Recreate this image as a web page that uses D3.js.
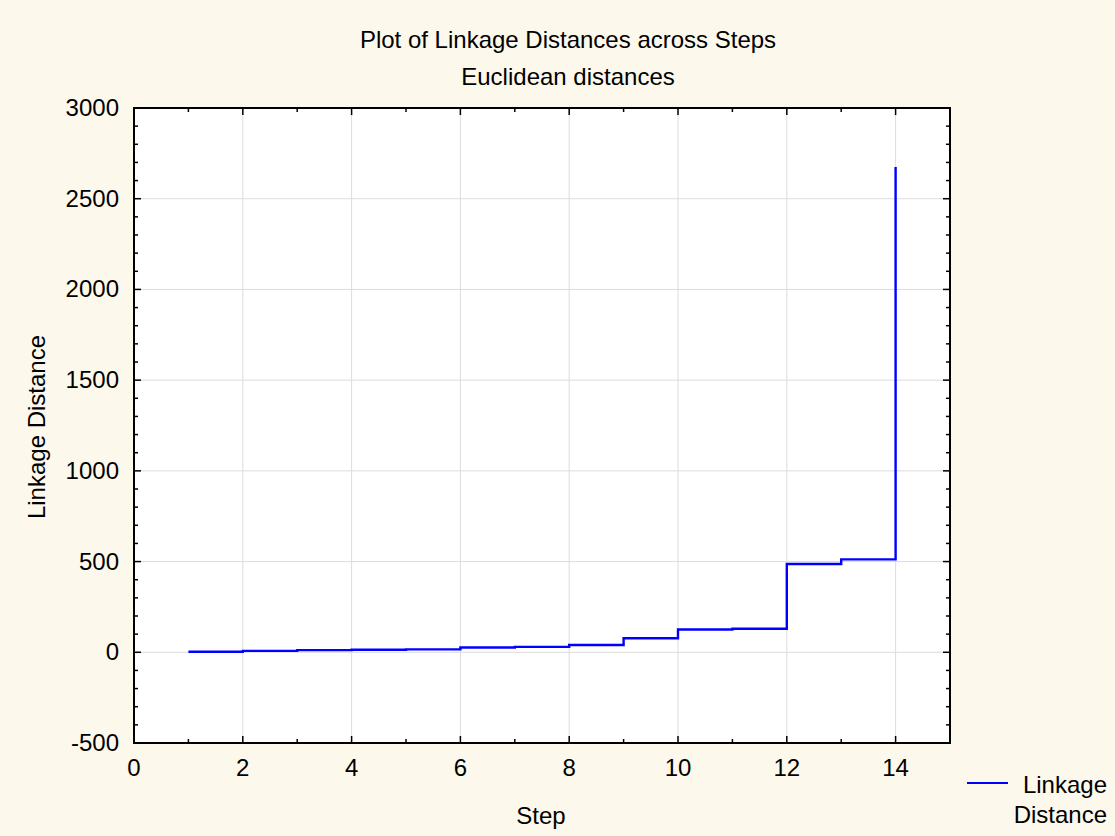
<!DOCTYPE html>
<html>
<head>
<meta charset="utf-8">
<script src="https://cdn.jsdelivr.net/npm/d3@7"></script>
<style>
  body { margin: 0; background: #fdf8ec; }
  svg { display: block; font-family: "Liberation Sans", Arial, sans-serif; }
</style>
</head>
<body>
<svg width="1115" height="836"></svg>
<script>
// data
const steps = [1, 2, 3, 4, 5, 6, 7, 8, 9, 10, 11, 12, 13, 14]
const linkage = [3, 8, 12, 14, 16, 26, 30, 40, 77, 126, 130, 487, 512, 2675]
const xTicks = [0, 2, 4, 6, 8, 10, 12, 14]
const yTicks = [-500, 0, 500, 1000, 1500, 2000, 2500, 3000]

const svg = d3.select("svg")
const width = +svg.attr("width")
const height = +svg.attr("height")
const fs = 24

svg.append("rect").attr("width", width).attr("height", height).attr("fill", "#fdf8ec")

// plot box
const box = { left: 134, right: 950, top: 108, bottom: 743 }

const x = d3.scaleLinear().domain([0, 15]).range([box.left, box.right])
const y = d3.scaleLinear().domain([-500, 3000]).range([box.bottom, box.top])

svg.append("rect")
  .attr("x", box.left).attr("y", box.top)
  .attr("width", box.right - box.left).attr("height", box.bottom - box.top)
  .attr("fill", "#ffffff")

// grid
const grid = svg.append("g").attr("stroke", "#dcdcdc").attr("stroke-width", 1)
xTicks.filter(d => d > 0).forEach(d => {
  grid.append("line")
    .attr("x1", x(d)).attr("x2", x(d))
    .attr("y1", box.top).attr("y2", box.bottom)
})
yTicks.filter(d => d > -500 && d < 3000).forEach(d => {
  grid.append("line")
    .attr("x1", box.left).attr("x2", box.right)
    .attr("y1", y(d)).attr("y2", y(d))
})

// inward ticks on all four sides
const ticks = svg.append("g").attr("stroke", "#000").attr("stroke-width", 1.5)
d3.range(0, 16, 1).forEach(d => {
  const len = d % 2 === 0 ? 7 : 4
  ticks.append("line").attr("x1", x(d)).attr("x2", x(d)).attr("y1", box.top).attr("y2", box.top + len)
  ticks.append("line").attr("x1", x(d)).attr("x2", x(d)).attr("y1", box.bottom).attr("y2", box.bottom - len)
})
d3.range(-500, 3001, 100).forEach(d => {
  const len = d % 500 === 0 ? 7 : 4
  ticks.append("line").attr("x1", box.left).attr("x2", box.left + len).attr("y1", y(d)).attr("y2", y(d))
  ticks.append("line").attr("x1", box.right).attr("x2", box.right - len).attr("y1", y(d)).attr("y2", y(d))
})

svg.append("rect")
  .attr("x", box.left).attr("y", box.top)
  .attr("width", box.right - box.left).attr("height", box.bottom - box.top)
  .attr("fill", "none")
  .attr("stroke", "#000")
  .attr("stroke-width", 2)

// tick labels
svg.append("g").selectAll("text")
  .data(xTicks)
  .join("text")
  .attr("x", d => x(d))
  .attr("y", box.bottom + 33)
  .attr("text-anchor", "middle")
  .attr("font-size", fs)
  .text(d => d)

svg.append("g").selectAll("text")
  .data(yTicks)
  .join("text")
  .attr("x", box.left - 15)
  .attr("y", d => y(d) + 8)
  .attr("text-anchor", "end")
  .attr("font-size", fs)
  .text(d => d)

// step line: each value held until the next step, last one rises vertically at step 14
const pts = steps.map((s, i) => [s, linkage[i]])
const stepPts = [pts[0]]
for (let i = 1; i < pts.length; i++) {
  stepPts.push([pts[i][0], pts[i - 1][1]])
  stepPts.push(pts[i])
}
svg.append("path")
  .attr("d", d3.line().x(d => x(d[0])).y(d => y(d[1]))(stepPts))
  .attr("fill", "none")
  .attr("stroke", "#0000ff")
  .attr("stroke-width", 2.4)

// titles
svg.append("text")
  .attr("x", 568).attr("y", 48)
  .attr("text-anchor", "middle")
  .attr("font-size", fs)
  .text("Plot of Linkage Distances across Steps")

svg.append("text")
  .attr("x", 568).attr("y", 85)
  .attr("text-anchor", "middle")
  .attr("font-size", fs)
  .text("Euclidean distances")

svg.append("text")
  .attr("x", 541).attr("y", 824)
  .attr("text-anchor", "middle")
  .attr("font-size", fs)
  .text("Step")

svg.append("text")
  .attr("transform", "translate(45,427) rotate(-90)")
  .attr("text-anchor", "middle")
  .attr("font-size", fs)
  .text("Linkage Distance")

// legend
svg.append("line")
  .attr("x1", 967).attr("x2", 1008)
  .attr("y1", 783).attr("y2", 783)
  .attr("stroke", "#0000ff")
  .attr("stroke-width", 2)

svg.append("text")
  .attr("x", 1107).attr("y", 793)
  .attr("text-anchor", "end")
  .attr("font-size", fs)
  .text("Linkage")

svg.append("text")
  .attr("x", 1107).attr("y", 823)
  .attr("text-anchor", "end")
  .attr("font-size", fs)
  .text("Distance")
</script>
</body>
</html>
